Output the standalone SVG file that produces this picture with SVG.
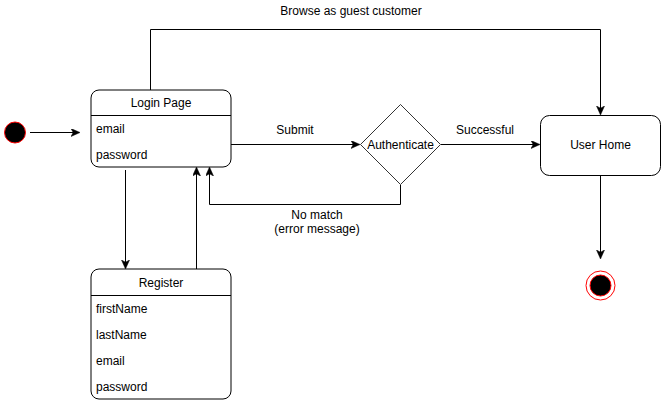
<svg xmlns="http://www.w3.org/2000/svg" width="661" height="403" viewBox="0 0 661 403">
<style>
text{font-family:"Liberation Sans",Arial,sans-serif;font-size:12px;fill:#000}
.c{text-anchor:middle}
.box{fill:#fff;stroke:#000;stroke-width:1}
.ln{fill:none;stroke:#000;stroke-width:1}
</style>
<defs>
<marker id="ah" markerWidth="10" markerHeight="10" refX="8" refY="4" orient="auto" markerUnits="userSpaceOnUse">
<path d="M0,0 L9,4 L0,8 L2.2,4 z" fill="#000" stroke="#000" stroke-width="0.5"/>
</marker>
</defs>
<rect width="661" height="403" fill="#fff"/>
<g id="connectors">
<line class="ln" x1="30" y1="132.5" x2="79" y2="132.5" marker-end="url(#ah)"/>
<polyline class="ln" points="150.5,90 150.5,29.5 600.5,29.5 600.5,114" marker-end="url(#ah)"/>
<line class="ln" x1="231" y1="144.5" x2="359" y2="144.5" marker-end="url(#ah)"/>
<line class="ln" x1="441" y1="144.5" x2="539" y2="144.5" marker-end="url(#ah)"/>
<polyline class="ln" points="400.5,185 400.5,204.5 209.5,204.5 209.5,168" marker-end="url(#ah)"/>
<line class="ln" x1="125.5" y1="170" x2="125.5" y2="268" marker-end="url(#ah)"/>
<line class="ln" x1="196.5" y1="269" x2="196.5" y2="168" marker-end="url(#ah)"/>
<line class="ln" x1="600.5" y1="175" x2="600.5" y2="258" marker-end="url(#ah)"/>
<text x="351" y="15" class="c">Browse as guest customer</text>
<text x="295" y="134" class="c">Submit</text>
<text x="485" y="134" class="c">Successful</text>
<text x="317" y="219" class="c">No match</text>
<text x="317" y="233" class="c">(error message)</text>
</g>
<g id="start">
<circle cx="15" cy="132.5" r="10.5" fill="#000" stroke="#ff0000" stroke-width="1"/>
</g>
<g id="login">
<rect class="box" x="91" y="90" width="140" height="77" rx="8"/>
<line class="ln" x1="91" y1="115.5" x2="231" y2="115.5"/>
<text x="161" y="107" class="c">Login Page</text>
<text x="96" y="133">email</text>
<text x="96" y="159">password</text>
</g>
<g id="register">
<rect class="box" x="91" y="269" width="140" height="130" rx="8"/>
<line class="ln" x1="91" y1="295.5" x2="231" y2="295.5"/>
<text x="161" y="287" class="c">Register</text>
<text x="96" y="313">firstName</text>
<text x="96" y="339">lastName</text>
<text x="96" y="365">email</text>
<text x="96" y="391">password</text>
</g>
<g id="authenticate">
<polygon points="400.5,104.5 440.5,144.5 400.5,184.5 360.5,144.5" fill="#fff" stroke="#000" stroke-width="0.8"/>
<text x="400.5" y="149" class="c">Authenticate</text>
</g>
<g id="userhome">
<rect class="box" x="540.5" y="115.5" width="120" height="60" rx="9"/>
<text x="600.5" y="149" class="c">User Home</text>
</g>
<g id="end">
<circle cx="600.5" cy="285.5" r="14.5" fill="#fff" stroke="#ff0000" stroke-width="1"/>
<circle cx="600.5" cy="285.5" r="10.5" fill="#000" stroke="#ff0000" stroke-width="1"/>
</g>
</svg>
